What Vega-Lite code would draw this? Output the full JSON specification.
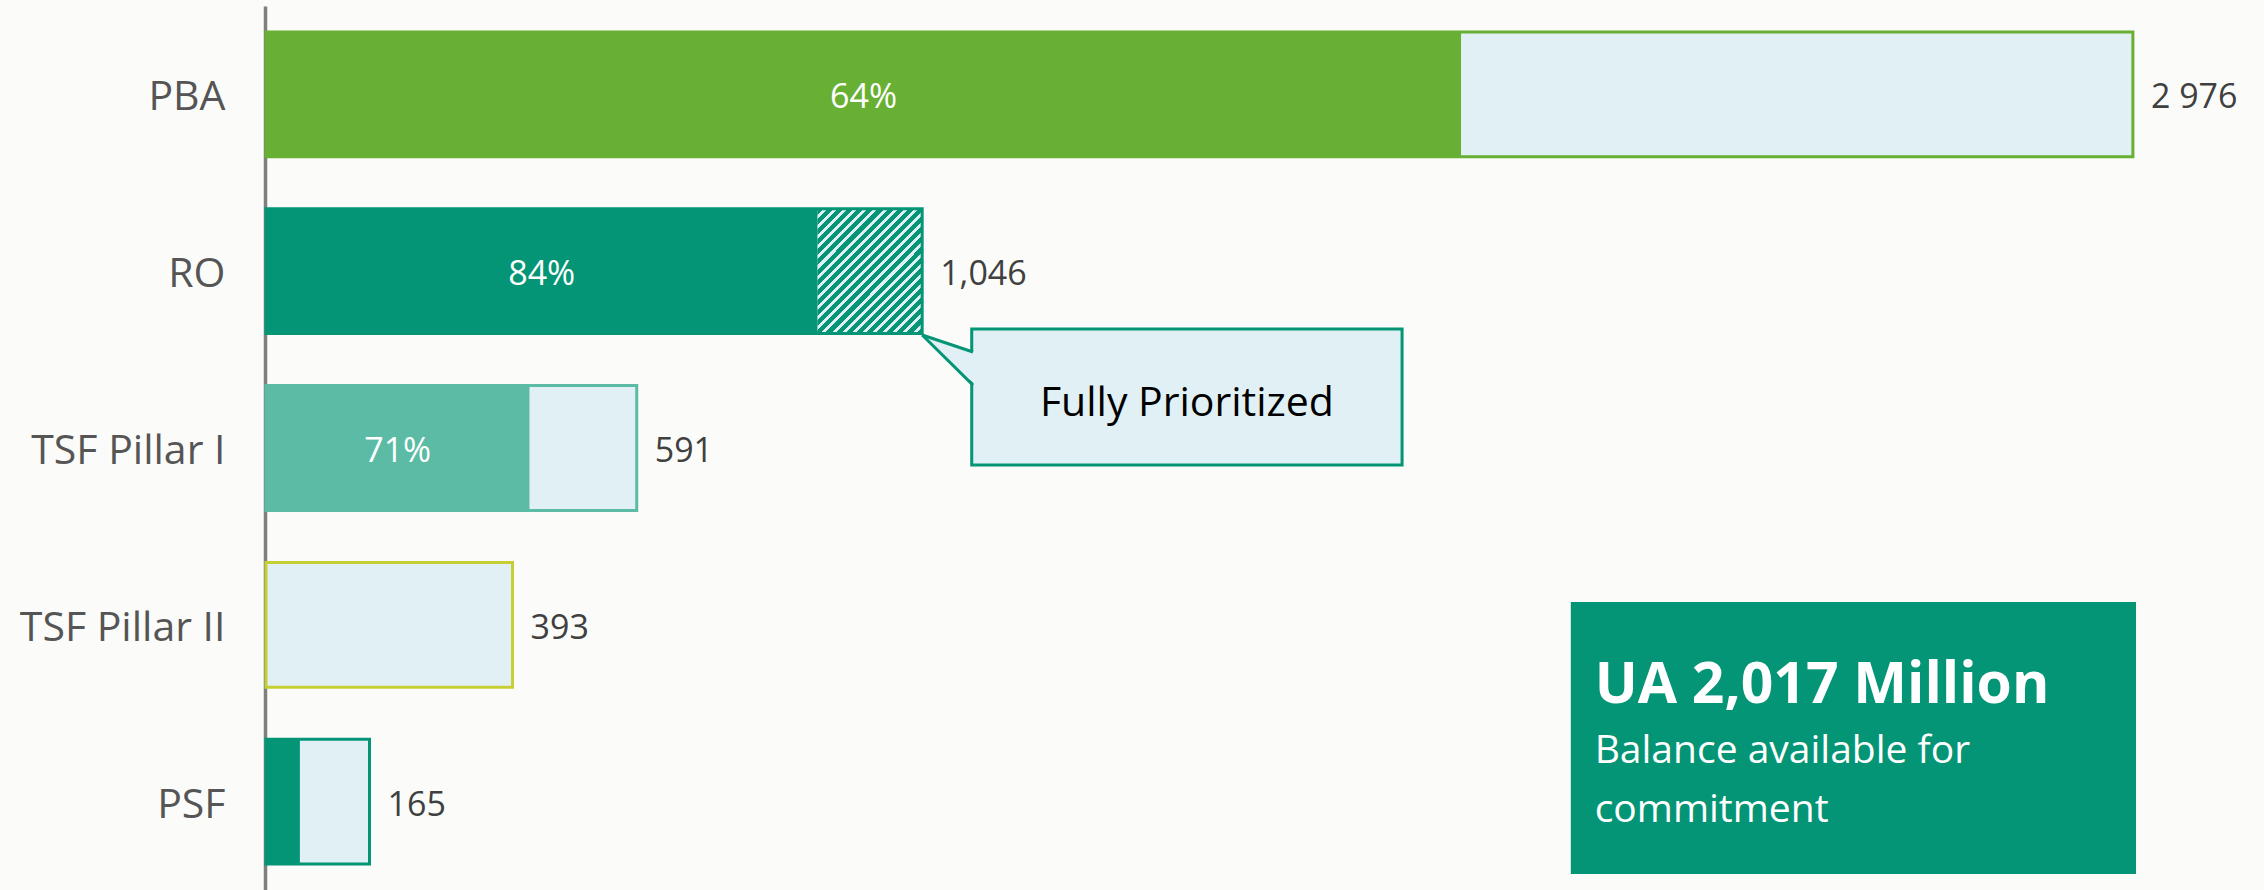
{
  "$schema": "https://vega.github.io/schema/vega-lite/v6.json",
  "width": 1998,
  "height": 884,
  "autosize": {"type": "none"},
  "padding": {"left": 266, "top": 6, "right": 0, "bottom": 0},
  "background": "#FBFCF9",
  "config": {"view": {"stroke": null}, "font": "Open Sans"},
  "datasets": {
    "bars": [
      {"cat": "PBA", "total": 2976, "committed": 1905, "pct": "64%", "label": "2 976"},
      {"cat": "RO", "total": 1046, "committed": 879, "pct": "84%", "label": "1,046"},
      {"cat": "TSF Pillar I", "total": 591, "committed": 420, "pct": "71%", "label": "591"},
      {"cat": "TSF Pillar II", "total": 393, "committed": 0, "pct": "", "label": "393"},
      {"cat": "PSF", "total": 165, "committed": 54, "pct": "", "label": "165"}
    ],
    "prioritized": [{"cat": "RO", "from": 879, "to": 1046}],
    "pointer": [
      {"x": 1046, "ya": 1.861, "ya2": 1.861},
      {"x": 1131, "ya": 1.957, "ya2": 2.144}
    ]
  },
  "layer": [
    {
      "data": {"name": "bars"},
      "encoding": {
        "y": {
          "field": "cat",
          "type": "nominal",
          "sort": ["PBA", "RO", "TSF Pillar I", "TSF Pillar II", "PSF"],
          "scale": {"paddingInner": 0.294, "paddingOuter": 0.147},
          "axis": {
            "title": null,
            "ticks": false,
            "grid": false,
            "labelFontSize": 41,
            "labelFont": "Open Sans",
            "labelColor": "#555555",
            "labelPadding": 40,
            "labelOffset": 4,
            "labelLimit": 0,
            "domainColor": "#7F7F7F",
            "domainWidth": 3.5,
            "offset": 1
          }
        }
      },
      "layer": [
        {
          "mark": {"type": "bar", "fill": "#E0F0F4"},
          "encoding": {
            "x": {"field": "total", "type": "quantitative", "scale": {"domain": [0, 3185], "nice": false}, "axis": null}
          }
        },
        {
          "data": {"name": "prioritized"},
          "mark": {
            "type": "bar",
            "fill": {
              "gradient": "linear",
              "x1": 0, "y1": 0, "x2": 1, "y2": 1.19,
              "stops": [
                {"offset": 0, "color": "#039575"}, {"offset": 0.024, "color": "#039575"}, {"offset": 0.024, "color": "#E0F0F4"}, {"offset": 0.04, "color": "#E0F0F4"},
                {"offset": 0.04, "color": "#039575"}, {"offset": 0.064, "color": "#039575"}, {"offset": 0.064, "color": "#E0F0F4"}, {"offset": 0.08, "color": "#E0F0F4"},
                {"offset": 0.08, "color": "#039575"}, {"offset": 0.104, "color": "#039575"}, {"offset": 0.104, "color": "#E0F0F4"}, {"offset": 0.12, "color": "#E0F0F4"},
                {"offset": 0.12, "color": "#039575"}, {"offset": 0.144, "color": "#039575"}, {"offset": 0.144, "color": "#E0F0F4"}, {"offset": 0.16, "color": "#E0F0F4"},
                {"offset": 0.16, "color": "#039575"}, {"offset": 0.184, "color": "#039575"}, {"offset": 0.184, "color": "#E0F0F4"}, {"offset": 0.2, "color": "#E0F0F4"},
                {"offset": 0.2, "color": "#039575"}, {"offset": 0.224, "color": "#039575"}, {"offset": 0.224, "color": "#E0F0F4"}, {"offset": 0.24, "color": "#E0F0F4"},
                {"offset": 0.24, "color": "#039575"}, {"offset": 0.264, "color": "#039575"}, {"offset": 0.264, "color": "#E0F0F4"}, {"offset": 0.28, "color": "#E0F0F4"},
                {"offset": 0.28, "color": "#039575"}, {"offset": 0.304, "color": "#039575"}, {"offset": 0.304, "color": "#E0F0F4"}, {"offset": 0.32, "color": "#E0F0F4"},
                {"offset": 0.32, "color": "#039575"}, {"offset": 0.344, "color": "#039575"}, {"offset": 0.344, "color": "#E0F0F4"}, {"offset": 0.36, "color": "#E0F0F4"},
                {"offset": 0.36, "color": "#039575"}, {"offset": 0.384, "color": "#039575"}, {"offset": 0.384, "color": "#E0F0F4"}, {"offset": 0.4, "color": "#E0F0F4"},
                {"offset": 0.4, "color": "#039575"}, {"offset": 0.424, "color": "#039575"}, {"offset": 0.424, "color": "#E0F0F4"}, {"offset": 0.44, "color": "#E0F0F4"},
                {"offset": 0.44, "color": "#039575"}, {"offset": 0.464, "color": "#039575"}, {"offset": 0.464, "color": "#E0F0F4"}, {"offset": 0.48, "color": "#E0F0F4"},
                {"offset": 0.48, "color": "#039575"}, {"offset": 0.504, "color": "#039575"}, {"offset": 0.504, "color": "#E0F0F4"}, {"offset": 0.52, "color": "#E0F0F4"},
                {"offset": 0.52, "color": "#039575"}, {"offset": 0.544, "color": "#039575"}, {"offset": 0.544, "color": "#E0F0F4"}, {"offset": 0.56, "color": "#E0F0F4"},
                {"offset": 0.56, "color": "#039575"}, {"offset": 0.584, "color": "#039575"}, {"offset": 0.584, "color": "#E0F0F4"}, {"offset": 0.6, "color": "#E0F0F4"},
                {"offset": 0.6, "color": "#039575"}, {"offset": 0.624, "color": "#039575"}, {"offset": 0.624, "color": "#E0F0F4"}, {"offset": 0.64, "color": "#E0F0F4"},
                {"offset": 0.64, "color": "#039575"}, {"offset": 0.664, "color": "#039575"}, {"offset": 0.664, "color": "#E0F0F4"}, {"offset": 0.68, "color": "#E0F0F4"},
                {"offset": 0.68, "color": "#039575"}, {"offset": 0.704, "color": "#039575"}, {"offset": 0.704, "color": "#E0F0F4"}, {"offset": 0.72, "color": "#E0F0F4"},
                {"offset": 0.72, "color": "#039575"}, {"offset": 0.744, "color": "#039575"}, {"offset": 0.744, "color": "#E0F0F4"}, {"offset": 0.76, "color": "#E0F0F4"},
                {"offset": 0.76, "color": "#039575"}, {"offset": 0.784, "color": "#039575"}, {"offset": 0.784, "color": "#E0F0F4"}, {"offset": 0.8, "color": "#E0F0F4"},
                {"offset": 0.8, "color": "#039575"}, {"offset": 0.824, "color": "#039575"}, {"offset": 0.824, "color": "#E0F0F4"}, {"offset": 0.84, "color": "#E0F0F4"},
                {"offset": 0.84, "color": "#039575"}, {"offset": 0.864, "color": "#039575"}, {"offset": 0.864, "color": "#E0F0F4"}, {"offset": 0.88, "color": "#E0F0F4"},
                {"offset": 0.88, "color": "#039575"}, {"offset": 0.904, "color": "#039575"}, {"offset": 0.904, "color": "#E0F0F4"}, {"offset": 0.92, "color": "#E0F0F4"},
                {"offset": 0.92, "color": "#039575"}, {"offset": 0.944, "color": "#039575"}, {"offset": 0.944, "color": "#E0F0F4"}, {"offset": 0.96, "color": "#E0F0F4"},
                {"offset": 0.96, "color": "#039575"}, {"offset": 0.984, "color": "#039575"}, {"offset": 0.984, "color": "#E0F0F4"}, {"offset": 1, "color": "#E0F0F4"}
              ]
            }
          },
          "encoding": {
            "x": {"field": "from", "type": "quantitative"},
            "x2": {"field": "to"}
          }
        },
        {
          "mark": {"type": "bar"},
          "encoding": {
            "x": {"field": "committed", "type": "quantitative"},
            "color": {
              "field": "cat",
              "type": "nominal",
              "scale": {"domain": ["PBA", "RO", "TSF Pillar I", "TSF Pillar II", "PSF"], "range": ["#67B034", "#039575", "#5BBBA5", "#C5CE32", "#039575"]},
              "legend": null
            }
          }
        },
        {
          "mark": {"type": "bar", "fillOpacity": 0, "strokeWidth": 3},
          "encoding": {
            "x": {"field": "total", "type": "quantitative"},
            "stroke": {
              "field": "cat",
              "type": "nominal",
              "scale": {"domain": ["PBA", "RO", "TSF Pillar I", "TSF Pillar II", "PSF"], "range": ["#67B034", "#039575", "#5BBBA5", "#C5CE32", "#039575"]},
              "legend": null
            }
          }
        },
        {
          "mark": {"type": "text", "align": "left", "baseline": "middle", "dx": 18, "dy": 4, "fontSize": 34, "color": "#404040"},
          "encoding": {
            "x": {"field": "total", "type": "quantitative"},
            "text": {"field": "label"}
          }
        }
      ]
    },
    {
      "data": {"name": "bars"},
      "mark": {"type": "text", "align": "center", "baseline": "middle", "dy": 4, "fontSize": 34, "color": "#FFFFFF"},
      "encoding": {
        "y": {
          "field": "cat",
          "type": "nominal",
          "sort": ["PBA", "RO", "TSF Pillar I", "TSF Pillar II", "PSF"],
          "scale": {"paddingInner": 0.294, "paddingOuter": 0.147},
          "axis": null
        },
        "x": {"field": "committed", "type": "quantitative", "scale": {"domain": [0, 6370], "nice": false}, "axis": null},
        "text": {"field": "pct"}
      }
    },
    {
      "data": {"values": [{}]},
      "layer": [
        {
          "mark": {"type": "rect", "fill": "#E0F0F4", "stroke": "#039575", "strokeWidth": 3},
          "encoding": {
            "x": {"datum": 1125, "type": "quantitative", "scale": {"domain": [0, 3185], "nice": false}, "axis": null},
            "x2": {"datum": 1811},
            "y": {"datum": 1.827, "type": "quantitative", "scale": {"domain": [0, 5], "reverse": true, "nice": false, "zero": false}, "axis": null},
            "y2": {"datum": 2.596}
          }
        },
        {
          "data": {"name": "pointer"},
          "mark": {"type": "area", "fill": "#E0F0F4", "orient": "vertical"},
          "encoding": {
            "x": {"field": "x", "type": "quantitative"},
            "y": {"field": "ya", "type": "quantitative"},
            "y2": {"field": "ya2"}
          }
        },
        {
          "mark": {"type": "rule", "color": "#039575", "strokeWidth": 3},
          "encoding": {
            "x": {"datum": 1046, "type": "quantitative"},
            "x2": {"datum": 1127},
            "y": {"datum": 1.861, "type": "quantitative"},
            "y2": {"datum": 1.957}
          }
        },
        {
          "mark": {"type": "rule", "color": "#039575", "strokeWidth": 3},
          "encoding": {
            "x": {"datum": 1046, "type": "quantitative"},
            "x2": {"datum": 1127},
            "y": {"datum": 1.861, "type": "quantitative"},
            "y2": {"datum": 2.144}
          }
        },
        {
          "mark": {"type": "text", "align": "center", "baseline": "middle", "fontSize": 41, "color": "#000000"},
          "encoding": {
            "x": {"datum": 1468, "type": "quantitative"},
            "y": {"datum": 2.25, "type": "quantitative"},
            "text": {"value": "Fully Prioritized"}
          }
        },
        {
          "mark": {"type": "rect", "fill": "#039575"},
          "encoding": {
            "x": {"datum": 2080, "type": "quantitative"},
            "x2": {"datum": 2981},
            "y": {"datum": 3.371, "type": "quantitative"},
            "y2": {"datum": 4.91}
          }
        },
        {
          "mark": {"type": "text", "align": "left", "baseline": "alphabetic", "fontSize": 57, "fontWeight": "bold", "color": "#FFFFFF"},
          "encoding": {
            "x": {"datum": 2118, "type": "quantitative"},
            "y": {"datum": 3.942, "type": "quantitative"},
            "text": {"value": "UA 2,017 Million"}
          }
        },
        {
          "mark": {"type": "text", "align": "left", "baseline": "alphabetic", "fontSize": 39, "color": "#FFFFFF"},
          "encoding": {
            "x": {"datum": 2118, "type": "quantitative"},
            "y": {"datum": 4.282, "type": "quantitative"},
            "text": {"value": "Balance available for"}
          }
        },
        {
          "mark": {"type": "text", "align": "left", "baseline": "alphabetic", "fontSize": 39, "color": "#FFFFFF"},
          "encoding": {
            "x": {"datum": 2118, "type": "quantitative"},
            "y": {"datum": 4.615, "type": "quantitative"},
            "text": {"value": "commitment"}
          }
        }
      ]
    }
  ],
  "resolve": {"scale": {"y": "independent", "x": "independent"}}
}
